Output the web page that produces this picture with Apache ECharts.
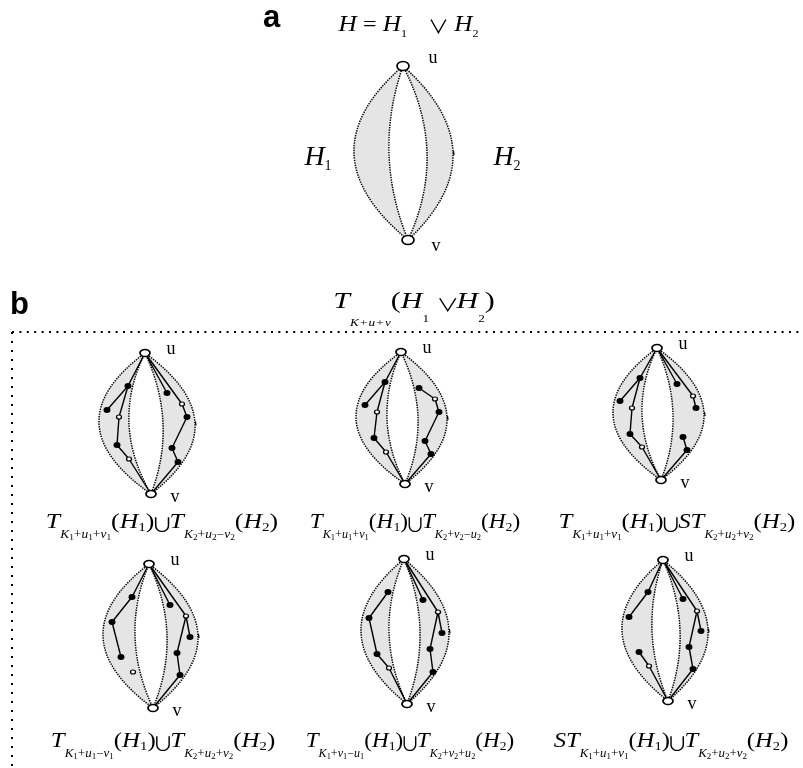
<!DOCTYPE html>
<html><head><meta charset="utf-8">
<script src="https://cdn.jsdelivr.net/npm/echarts@6/dist/echarts.min.js"></script>
<style>html,body{margin:0;padding:0;background:#fff}#c{width:803px;height:768px}</style>
</head><body><div id="c"></div>
<script>
// ---- lens geometry: panels a, b1..b6 (u, v and x of each boundary at mid-height)
const lensU = [[403,66],[145,353],[401,352],[657,348],[149,564],[404,559],[663,560]];
const lensV = [[408,240],[151,494],[405,484],[661,480],[153,708],[407,704],[668,701]];
const outerLeftX  = [354, 99,356,613,103,361,622];
const innerLeftX  = [389,129,387,642,135,389,652];
const innerRightX = [427,163,418,673,167,420,680];
const outerRightX = [453,195,447,704,198,449,708];

// ---- inner vertices per panel: [x, y, 'f' filled | 'o' open]; index 0 = u, 1 = v, inner start at 2
const nodesB1 = [[128,386,'f'],[107,410,'f'],[119,417,'o'],[117,445,'f'],[129,459,'o'],[167,393,'f'],[182,404,'o'],[187,417,'f'],[172,448,'f'],[178,462,'f']];
const edgesB1 = [[0,2],[2,3],[2,4],[4,5],[5,6],[6,1],[0,7],[0,8],[8,9],[9,10],[10,11],[11,1]];
const nodesB2 = [[385,382,'f'],[365,405,'f'],[377,412,'o'],[374,438,'f'],[386,452,'o'],[419,388,'f'],[435,399,'o'],[439,412,'f'],[425,441,'f'],[431,454,'f']];
const edgesB2 = [[0,2],[2,3],[2,4],[4,5],[5,6],[6,1],[7,8],[8,9],[9,10],[10,11],[11,1]];
const nodesB3 = [[640,378,'f'],[620,401,'f'],[632,408,'o'],[630,434,'f'],[642,447,'o'],[677,384,'f'],[693,396,'o'],[696,408,'f'],[683,437,'f'],[687,450,'f']];
const edgesB3 = [[0,2],[2,3],[2,4],[4,5],[5,6],[6,1],[0,7],[0,8],[8,9],[10,11],[11,1]];
const nodesB4 = [[132,597,'f'],[112,622,'f'],[121,657,'f'],[133,672,'o'],[170,605,'f'],[186,616,'o'],[190,637,'f'],[177,653,'f'],[180,675,'f']];
const edgesB4 = [[0,2],[2,3],[3,4],[0,6],[0,7],[7,8],[7,9],[9,10],[10,1]];
const nodesB5 = [[388,592,'f'],[369,618,'f'],[377,654,'f'],[389,668,'o'],[423,600,'f'],[438,612,'o'],[442,633,'f'],[430,649,'f'],[433,672,'f']];
const edgesB5 = [[2,3],[3,4],[4,5],[5,1],[0,6],[0,7],[7,8],[7,9],[9,10],[10,1]];
const nodesB6 = [[648,592,'f'],[629,617,'f'],[639,652,'f'],[649,666,'o'],[683,599,'f'],[697,611,'o'],[701,631,'f'],[689,647,'f'],[693,669,'f']];
const edgesB6 = [[0,2],[2,3],[4,5],[5,1],[0,6],[0,7],[7,8],[7,9],[9,10],[10,1]];

// ---- caption texts: [operator1, subscript1, operator2, subscript2]
const captions = [
  ['T','K1+u1+v1','T','K2+u2-v2'],
  ['T','K1+u1+v1','T','K2+v2-u2'],
  ['T','K1+u1+v1','ST','K2+u2+v2'],
  ['T','K1+u1-v1','T','K2+u2+v2'],
  ['T','K1+v1-u1','T','K2+v2+u2'],
  ['ST','K1+u1+v1','T','K2+u2+v2']
];
const captionCenterX = [162,415,677,163,410,671];
const captionBaseline = [530,530,530,749,749,749];
const captionStretch = [1.17,1.06,1.13,1.13,1.05,1.12];

// ---------- build series data ----------
const panelNodes = [[], nodesB1, nodesB2, nodesB3, nodesB4, nodesB5, nodesB6];
const panelEdges = [[], edgesB1, edgesB2, edgesB3, edgesB4, edgesB5, edgesB6];
const edgeData = [], filledData = [], openData = [], termData = [];
panelNodes.forEach((nodes, i) => {
  const all = [lensU[i], lensV[i]].concat(nodes);
  nodes.forEach(n => (n[2] === 'f' ? filledData : openData).push([n[0], n[1]]));
  panelEdges[i].forEach(e => edgeData.push({coords: [[all[e[0]][0], all[e[0]][1]], [all[e[1]][0], all[e[1]][1]]]}));
  const big = i === 0;
  termData.push({name:'u', value: lensU[i], symbolSize: big ? [12,9] : [10,7],
    label:{offset: big ? [30,-8] : [26,-4]}});
  termData.push({name:'v', value: lensV[i], symbolSize: big ? [12,9] : [10,7],
    label:{offset: big ? [28,6] : [24,3]}});
});
const lensData = lensU.map((u, i) => [u[0], u[1], lensV[i][0], lensV[i][1],
  outerLeftX[i], innerLeftX[i], innerRightX[i], outerRightX[i]]);

function renderLens(params, api) {
  const ux = api.value(0), uy = api.value(1), vx = api.value(2), vy = api.value(3);
  const my = (uy + vy) / 2, mx = (ux + vx) / 2;
  const ctrl = x => api.coord([2 * x - mx, my]);
  const P = a => a[0].toFixed(1) + ',' + a[1].toFixed(1);
  const U = api.coord([ux, uy]), V = api.coord([vx, vy]);
  const cOL = ctrl(api.value(4)), cIL = ctrl(api.value(5)), cIR = ctrl(api.value(6)), cOR = ctrl(api.value(7));
  const fillStyle = {fill:'#e5e5e5', stroke:null};
  const dot = {fill:null, stroke:'#000', lineWidth:1.5, lineDash:[1.4,1.1]};
  const curve = c => ({type:'path', shape:{pathData:`M${P(U)} Q${P(c)} ${P(V)}`}, style:dot});
  const OR = api.coord([api.value(7), my]);
  return {type:'group', children:[
    {type:'path', shape:{pathData:`M${P(U)} Q${P(cOL)} ${P(V)} Q${P(cIL)} ${P(U)} Z`}, style:fillStyle},
    {type:'path', shape:{pathData:`M${P(U)} Q${P(cOR)} ${P(V)} Q${P(cIR)} ${P(U)} Z`}, style:fillStyle},
    curve(cOL), curve(cIL), curve(cIR), curve(cOR),
    {type:'line', shape:{x1:OR[0]+0.5, y1:OR[1]-2, x2:OR[0]+1, y2:OR[1]+2}, style:{stroke:'#000', lineWidth:1.3}}
  ]};
}

// ---------- rich text helpers ----------
const SERIF = "'Liberation Serif','Times New Roman',serif";
const OPFONT = "'Noto Sans CJK JP','DejaVu Sans',sans-serif";
function tok(fs, italic, off, base, hpad) {
  const h = hpad || 0;
  return {fontFamily:SERIF, fontStyle: italic ? 'italic' : 'normal', fontSize:fs, lineHeight:fs,
    verticalAlign:'bottom', padding:[0,h,Math.max(0, base - off - 0.16*fs),h], color:'#000'};
}
function opTok(fs, off, base, w) {
  return {fontFamily:OPFONT, fontSize:fs, lineHeight:fs, width:w, align:'center',
    verticalAlign:'bottom', padding:[0,0,Math.max(0, base - off - 0.21*fs),0], color:'#000'};
}
const capRich = {
  m: tok(22, true, 0, 14), r: tok(22, false, 0, 14),
  s: tok(11.5, true, 9, 14), sr: tok(11.5, false, 9, 14),
  ss: tok(8, false, 11, 14), h: tok(13, false, 2, 14),
  op: opTok(19, 0, 14, 13)
};
function subTokens(s) {
  let out = '';
  for (const ch of s) {
    if (/[A-Za-z]/.test(ch)) out += `{s|${ch}}`;
    else if (/[0-9]/.test(ch)) out += `{ss|${ch}}`;
    else out += `{sr|${ch === '-' ? '\u2212' : ch}}`;
  }
  return out;
}
function captionText(c) {
  return `{m|${c[0]}}${subTokens(c[1])}{r|(}{m|H}{h|1}{r|)}{op|\u222A}{m|${c[2]}}${subTokens(c[3])}{r|(}{m|H}{h|2}{r|)}`;
}
function textEl(x, y, text, rich, sx) {
  return {type:'text', x:x, y:y, scaleX: sx || 1, style:{text:text, rich:rich, align:'center', verticalAlign:'bottom',
    textAlign:'center', textVerticalAlign:'bottom', fill:'#000'}};
}

const titleARich = {
  m: tok(23, true, 0, 10), r: tok(22, false, 0, 10), s: tok(11, false, 5, 10),
  g: Object.assign(tok(22, false, 0, 10), {width:20}),
  op: opTok(19, 0, 10, 17)
};
const titleBRich = {
  m: tok(24, true, 0, 20), r: tok(24, false, 0, 20),
  s: tok(10.5, true, 17, 20), sr: tok(10.5, false, 17, 20, 1), h: tok(10.5, false, 13, 20),
  g: Object.assign(tok(22, false, 0, 20), {width:8}),
  op: opTok(18, 0, 20, 14)
};
const hRich = { m: tok(28, true, 0, 10), s: tok(14, false, 4, 10) };

const graphics = [
  {type:'text', x:263, y:18.5, style:{text:'a', font:"bold 31px 'Liberation Sans', Arial, sans-serif", fill:'#000', align:'left', verticalAlign:'middle', textAlign:'left', textVerticalAlign:'middle'}},
  {type:'text', x:10, y:305.5, style:{text:'b', font:"bold 31px 'Liberation Sans', Arial, sans-serif", fill:'#000', align:'left', verticalAlign:'middle', textAlign:'left', textVerticalAlign:'middle'}},
  textEl(408.5, 42.7, '{m|H }{r|= }{m|H}{s|1}{g| }{op|\u2228}{m| H}{s|2}', titleARich, 1.1),
  textEl(414, 330, '{m|T}{s|K}{sr|+}{s|u}{sr|+}{s|v}{r|(}{m|H}{h|1}{g| }{op|\u2228}{m|H}{h|2}{r|)}', titleBRich, 1.25),
  textEl(318, 176.7, '{m|H}{s|1}', hRich),
  textEl(507, 176.7, '{m|H}{s|2}', hRich),
  {type:'line', shape:{x1:12, y1:332, x2:803, y2:332}, style:{stroke:'#000', lineWidth:2, lineDash:[2,5.4]}},
  {type:'line', shape:{x1:12, y1:332, x2:12, y2:768}, style:{stroke:'#000', lineWidth:2, lineDash:[2,7]}}
];
captions.forEach((c, i) => graphics.push(textEl(captionCenterX[i], captionBaseline[i] + 14, captionText(c), capRich, captionStretch[i])));

const chart = echarts.init(document.getElementById('c'), null, {renderer:'canvas'});
chart.setOption({
  backgroundColor:'#fff',
  animation:false,
  grid:{left:0, right:0, top:0, bottom:0},
  xAxis:{type:'value', min:0, max:803, show:false},
  yAxis:{type:'value', min:0, max:768, inverse:true, show:false},
  series:[
    {type:'custom', coordinateSystem:'cartesian2d', renderItem:renderLens, data:lensData, clip:false, silent:true, z:1},
    {type:'lines', coordinateSystem:'cartesian2d', data:edgeData, silent:true, z:2,
      lineStyle:{color:'#000', width:1.4, opacity:1, curveness:0}},
    {type:'scatter', data:filledData, symbol:'circle', symbolSize:[7,6], silent:true, z:3,
      itemStyle:{color:'#000', opacity:1}},
    {type:'scatter', data:openData, symbol:'circle', symbolSize:[5,4], silent:true, z:3,
      itemStyle:{color:'#fff', borderColor:'#000', borderWidth:1.2, opacity:1}},
    {type:'scatter', data:termData, symbol:'circle', silent:true, z:4,
      itemStyle:{color:'#fff', borderColor:'#000', borderWidth:1.5, opacity:1},
      label:{show:true, position:'inside', formatter:'{b}', color:'#000', fontFamily:SERIF, fontSize:18}}
  ],
  graphic: graphics
});
</script>
</body></html>
